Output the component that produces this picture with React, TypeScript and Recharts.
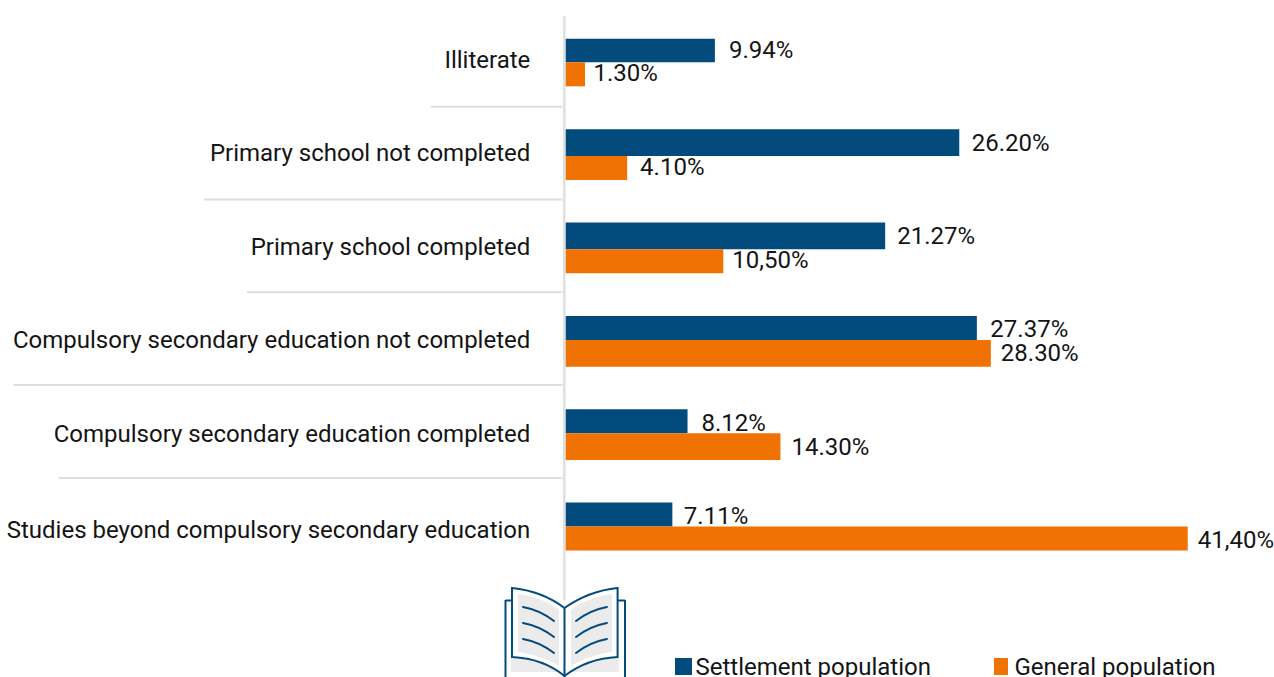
import React from "react";
import { BarChart, Bar, XAxis, YAxis, LabelList, Legend, Rectangle } from "recharts";

const categories = [
  "Illiterate",
  "Primary school not completed",
  "Primary school completed",
  "Compulsory secondary education not completed",
  "Compulsory secondary education completed",
  "Studies beyond compulsory secondary education",
];
const settlementValues = [9.94, 26.2, 21.27, 27.37, 8.12, 7.11];
const generalValues = [1.3, 4.1, 10.5, 28.3, 14.3, 41.4];
const settlementLabels = ["9.94%", "26.20%", "21.27%", "27.37%", "8.12%", "7.11%"];
const generalLabels = ["1.30%", "4.10%", "10,50%", "28.30%", "14.30%", "41,40%"];

// fine placement
const settlementGap = [14, 12.5, 12, 13.5, 14, 11.5];
const generalGap = [8.5, 13, 9, 10, 11, 10];
const settlementDy = [-12.5, -12.2, -12.2, -12, -10.6, -10.6];
const generalDy = [10.4, 12, 11.8, 12, 13.2, 13.4];
const tickDy = [-2.6, -2.6, -1.8, -1, -0.6, 3.4];
const separatorLeft = [431, 204, 247, 13.5, 58.5];
const settlementThickness = [23.6, 26.7, 26.6, 24, 24, 24];
const generalThickness = [24, 24, 24, 26.7, 26.7, 24];
const junctionShift = [-0.3, 0.6, 1, -1, -0.5, 0];

const BLUE = "#034b7d";
const ORANGE = "#ef7203";
const TEXT = "#141414";
const RULE = "#dedede";
const FONT = "Roboto, sans-serif";
const FONT_SIZE = 24;

const chartData = categories.map((category, i) => ({
  category,
  settlement: settlementValues[i],
  general: generalValues[i],
}));

const CategoryTick = (props: any) => {
  const { x, y, index, payload } = props;
  const sepLeft = separatorLeft[index];
  return (
    <g>
      <text
        x={530.3}
        y={y + tickDy[index]}
        textAnchor="end"
        dominantBaseline="central"
        fontFamily={FONT}
        fontSize={FONT_SIZE}
        fill={TEXT}
      >
        {payload.value}
      </text>
      {sepLeft !== undefined && (
        <line x1={sepLeft} x2={x} y1={y + 43.7} y2={y + 43.7} stroke={RULE} strokeWidth={2} />
      )}
    </g>
  );
};

const SettlementBar = (props: any) => {
  const { x, y, width, height, index } = props;
  const bottom = y + height + junctionShift[index];
  const h = settlementThickness[index];
  return <Rectangle x={x} y={bottom - h} width={width} height={h} fill={BLUE} />;
};

const GeneralBar = (props: any) => {
  const { x, y, width, index } = props;
  return <Rectangle x={x} y={y + junctionShift[index]} width={width} height={generalThickness[index]} fill={ORANGE} />;
};

const makeLabel = (labels: string[], gaps: number[], dys: number[], blue: boolean) => (props: any) => {
  const { x, y, width, height, index } = props;
  const center = blue ? y + height : y;
  return (
    <text
      x={x + width + gaps[index]}
      y={center + dys[index]}
      dominantBaseline="central"
      fontFamily={FONT}
      fontSize={FONT_SIZE}
      fill={TEXT}
    >
      {labels[index]}
    </text>
  );
};

const LegendContent = () => (
  <div style={{ position: "relative", width: 1274, height: 22, fontFamily: FONT, fontSize: FONT_SIZE, color: TEXT }}>
    <span style={{ position: "absolute", left: 674.5, top: 3, width: 17, height: 17, background: BLUE }} />
    <span style={{ position: "absolute", left: 695.5, top: -2, lineHeight: "28px", whiteSpace: "nowrap" }}>Settlement population</span>
    <span style={{ position: "absolute", left: 994, top: 3, width: 14, height: 17, background: ORANGE }} />
    <span style={{ position: "absolute", left: 1014.5, top: -2, lineHeight: "28px", whiteSpace: "nowrap" }}>General population</span>
  </div>
);

const Book = () => (
  <svg
    width={1274}
    height={677}
    style={{ position: "absolute", left: 0, top: 0, pointerEvents: "none" }}
    aria-hidden="true"
  >
    <g fill="#fff" stroke={BLUE} strokeWidth={2}>
      <path d="M505.5 600.5 H625 V680 H505.5 Z" stroke="none" />
      <path d="M505.5 600.5 H512 M618 600.5 H625 M505.5 600 V680 M625 600 V680" fill="none" />
    </g>
    <path d="M511 658 C530 659 548 664 564 675 C581 664 599 659 619 658 V672 H511 Z" fill="#ebebeb" />
    <path
      d="M512 588 C532 590 550 597 564.5 608 C580 597 598 590 617.6 588 V657 C598 658 580 664 564.5 676 C550 664 532 658 512 657 Z"
      fill="#fff"
      stroke="none"
    />
    <path d="M518 594 C533 596 548 601 559 610 V666 C548 659 533 654 518 652 Z" fill="#ebebeb" />
    <path d="M612 594 C597 596 582 601 571 610 V666 C582 659 597 654 612 652 Z" fill="#ebebeb" />
    <g fill="none" stroke={BLUE} strokeWidth={2} strokeLinecap="round">
      <path d="M512 588 C532 590 550 597 564.5 608 C580 597 598 590 617.6 588 V657 C598 658 580 664 564.5 676 C550 664 532 658 512 657 Z" />
      <path d="M564.5 608 V677" />
      <path d="M523 607 C534 609 545 614 554 621 M523 623 C534 625 545 630 554 637 M523 639 C534 641 545 646 554 653" />
      <path d="M607 607 C596 609 585 614 576 621 M607 623 C596 625 585 630 576 637 M607 639 C596 641 585 646 576 653" />
    </g>
  </svg>
);

export default function App() {
  return (
    <div style={{ position: "absolute", left: 0, top: 0, width: 1274, height: 677, overflow: "hidden", background: "#fff" }}>
      <BarChart
        width={1274}
        height={677}
        data={chartData}
        layout="vertical"
        barGap={0}
        barSize={24}
        margin={{ top: 16, right: 2.1, bottom: 40, left: 0 }}
      >
        <XAxis type="number" hide domain={[0, 47]} padding={{ left: 1.2, right: 0 }} />
        <YAxis
          type="category"
          dataKey="category"
          width={564.3}
          interval={0}
          tickLine={false}
          tickSize={0}
          axisLine={{ stroke: RULE, strokeWidth: 2.4 }}
          tick={<CategoryTick />}
          padding={{ top: 0.6, bottom: 41.6 }}
        />
        <Bar dataKey="settlement" fill={BLUE} isAnimationActive={false} shape={<SettlementBar />}>
          <LabelList content={makeLabel(settlementLabels, settlementGap, settlementDy, true)} />
        </Bar>
        <Bar dataKey="general" fill={ORANGE} isAnimationActive={false} shape={<GeneralBar />}>
          <LabelList content={makeLabel(generalLabels, generalGap, generalDy, false)} />
        </Bar>
        <Legend
          verticalAlign="bottom"
          height={22}
          content={<LegendContent />}
          wrapperStyle={{ left: 0, bottom: 0, width: 1274, height: 22 }}
        />
      </BarChart>
      <Book />
    </div>
  );
}
